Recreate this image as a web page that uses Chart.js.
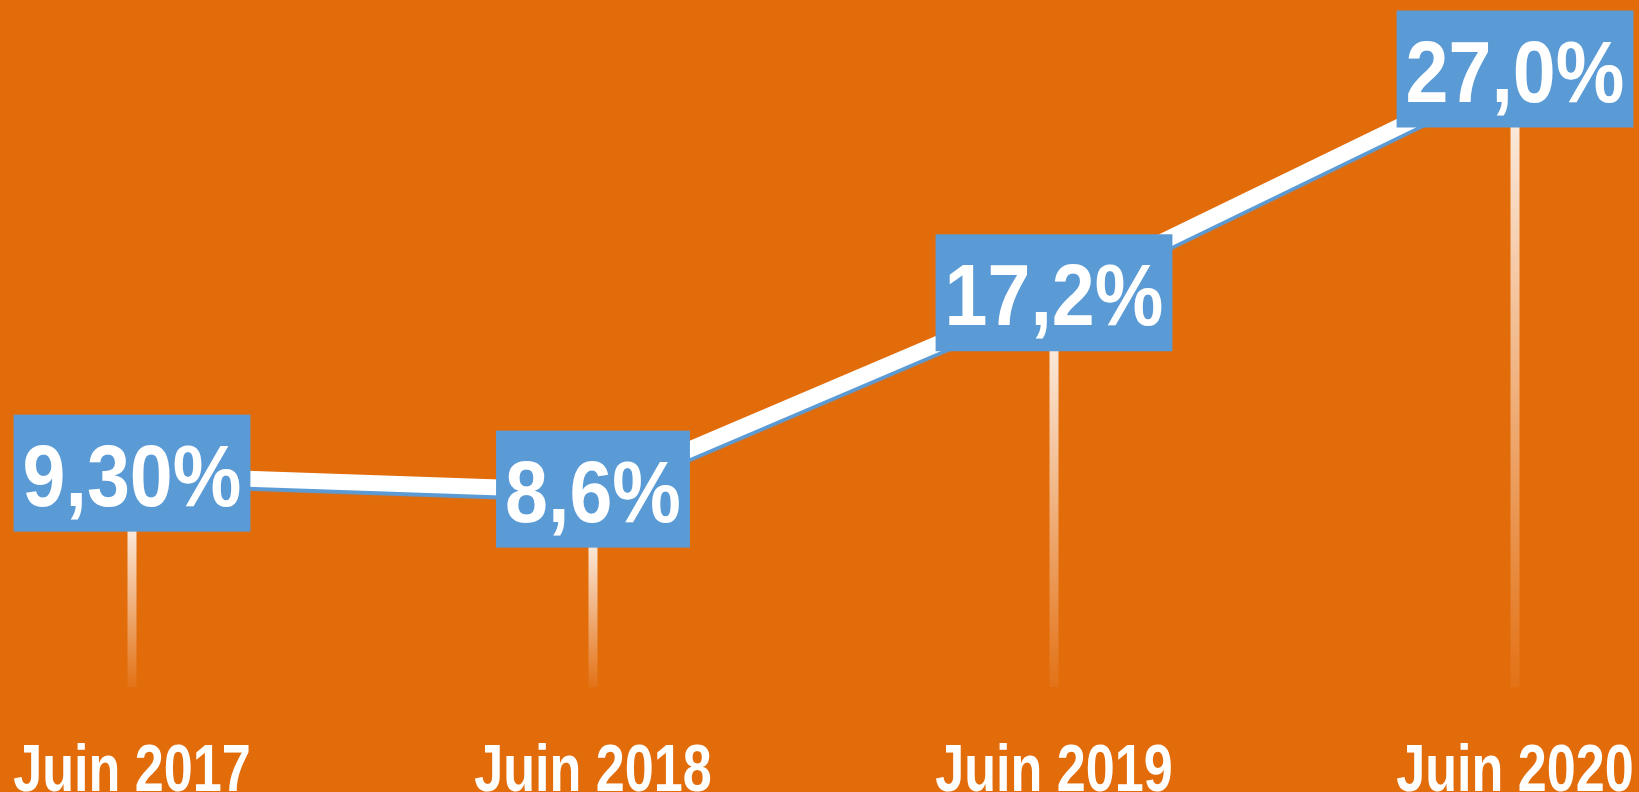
<!DOCTYPE html>
<html>
<head>
<meta charset="utf-8">
<script src="https://cdn.jsdelivr.net/npm/chart.js@4"></script>
<style>
  html, body { margin: 0; padding: 0; background: #E26B0A; }
  #wrap { width: 1639px; height: 792px; }
</style>
</head>
<body>
<div id="wrap"><canvas id="myChart"></canvas></div>
<script>
const categories = ['Juin 2017', 'Juin 2018', 'Juin 2019', 'Juin 2020'];
const values = [9.3, 8.6, 17.2, 27.0];
const valueLabels = ['9,30%', '8,6%', '17,2%', '27,0%'];

const FONT = "'Liberation Sans', Arial, sans-serif";
const BLUE = '#5B9BD5';

// vertical fading lines from each point down to zero
const dropLines = {
  id: 'dropLines',
  beforeDatasetsDraw(chart) {
    const ctx = chart.ctx;
    const y0 = chart.scales.y.getPixelForValue(0);
    chart.getDatasetMeta(0).data.forEach((pt) => {
      const g = ctx.createLinearGradient(0, pt.y + 55, 0, y0);
      g.addColorStop(0, 'rgba(255,255,255,0.85)');
      g.addColorStop(1, 'rgba(255,255,255,0.05)');
      ctx.save();
      ctx.strokeStyle = g;
      ctx.lineWidth = 9;
      ctx.beginPath();
      ctx.moveTo(pt.x, pt.y);
      ctx.lineTo(pt.x, y0);
      ctx.stroke();
      ctx.restore();
    });
  }
};

// blue shadow under the white line
const lineShadow = {
  id: 'lineShadow',
  beforeDatasetDraw(chart) {
    const ctx = chart.ctx;
    ctx.save();
    ctx.shadowColor = BLUE;
    ctx.shadowOffsetY = 4;
    ctx.shadowBlur = 1;
  },
  afterDatasetDraw(chart) {
    chart.ctx.restore();
  }
};

// blue boxes with the values, and the month labels below (narrowed text)
const boxLabels = {
  id: 'boxLabels',
  afterDatasetsDraw(chart) {
    const ctx = chart.ctx;
    ctx.save();
    ctx.font = 'bold 87px ' + FONT;
    ctx.textAlign = 'center';
    ctx.textBaseline = 'alphabetic';
    chart.getDatasetMeta(0).data.forEach((pt, i) => {
      const tw = ctx.measureText(valueLabels[i]).width * 0.887;
      const w = tw + 18;
      ctx.fillStyle = BLUE;
      ctx.fillRect(pt.x - w / 2, pt.y - 60, w, 117);
      ctx.fillStyle = '#fff';
      ctx.fillText(valueLabels[i], pt.x, pt.y + 31, tw);
    });
    ctx.font = 'bold 66px ' + FONT;
    ctx.fillStyle = '#fff';
    categories.forEach((c, i) => {
      const x = chart.scales.x.getPixelForValue(i);
      const tw = ctx.measureText(c).width * 0.79;
      ctx.fillText(c, x, 791, tw);
    });
    ctx.restore();
  }
};

const ctx = document.getElementById('myChart');
const myChart = new Chart(ctx, {
  type: 'line',
  data: {
    labels: categories,
    datasets: [{
      data: values,
      borderColor: '#fff',
      borderWidth: 16,
      pointRadius: 0,
      tension: 0,
      clip: false
    }]
  },
  options: {
    responsive: true,
    maintainAspectRatio: false,
    animation: false,
    layout: { padding: { left: 132, right: 124, top: 2, bottom: 105 } },
    plugins: { legend: { display: false }, tooltip: { enabled: false } },
    scales: {
      x: { display: false, offset: false },
      y: { display: false, min: 0, max: 30 }
    }
  },
  plugins: [dropLines, lineShadow, boxLabels]
});
</script>
</body>
</html>
